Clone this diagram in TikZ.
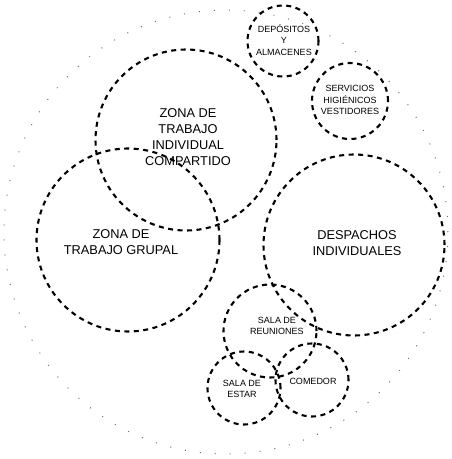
\documentclass[tikz,border=0pt]{standalone}
\usepackage{fontspec}
\setmainfont{Liberation Sans}
\begin{document}
\begin{tikzpicture}[x=1pt,y=-1pt,
  zone/.style={circle,draw,line width=2.1pt,dash pattern=on 5pt off 4.5pt,inner sep=0pt},
  big/.style={align=center,font=\fontsize{12.8}{16}\selectfont,inner sep=0pt},
  small/.style={align=center,font=\fontsize{9}{11.5}\selectfont,inner sep=0pt},
  faint/.style={draw=black!55,line width=1pt,dash pattern=on 1pt off 14pt}]
\useasboundingbox (0,0) rectangle (451,459);
% faint outer dotted circle
\node[circle,faint,minimum size=444pt,inner sep=0pt] (outer) at (226,232) {};
% zones
\node[zone,minimum size=181pt] (ic) at (186,140) {};
\node[zone,minimum size=183pt] (gr) at (128,240) {};
\node[zone,minimum size=181pt] (de) at (354,245) {};
\node[zone,minimum size=71pt] (dep) at (283,41) {};
\node[zone,minimum size=76pt] (ser) at (350,101) {};
\node[zone,minimum size=93pt] (reu) at (270,331) {};
\node[zone,minimum size=73pt] (est) at (244,388) {};
\node[zone,minimum size=73pt] (com) at (312,380) {};
% labels
\node[big] (ict) at (188,137) {ZONA DE\\TRABAJO\\INDIVIDUAL\\COMPARTIDO};
\node[big] (grt) at (121,242) {ZONA DE\\TRABAJO GRUPAL};
\node[big] (det) at (357,243) {DESPACHOS\\INDIVIDUALES};
\node[small] (dept) at (284,40) {DEPÓSITOS\\Y\\ALMACENES};
\node[small] (sert) at (350,100) {SERVICIOS\\HIGIÉNICOS\\VESTIDORES};
\node[small] (reut) at (277,326) {SALA DE\\REUNIONES};
\node[small] (estt) at (242,389) {SALA DE\\ESTAR};
\node[small] (comt) at (313,381) {COMEDOR};
\end{tikzpicture}
\end{document}
